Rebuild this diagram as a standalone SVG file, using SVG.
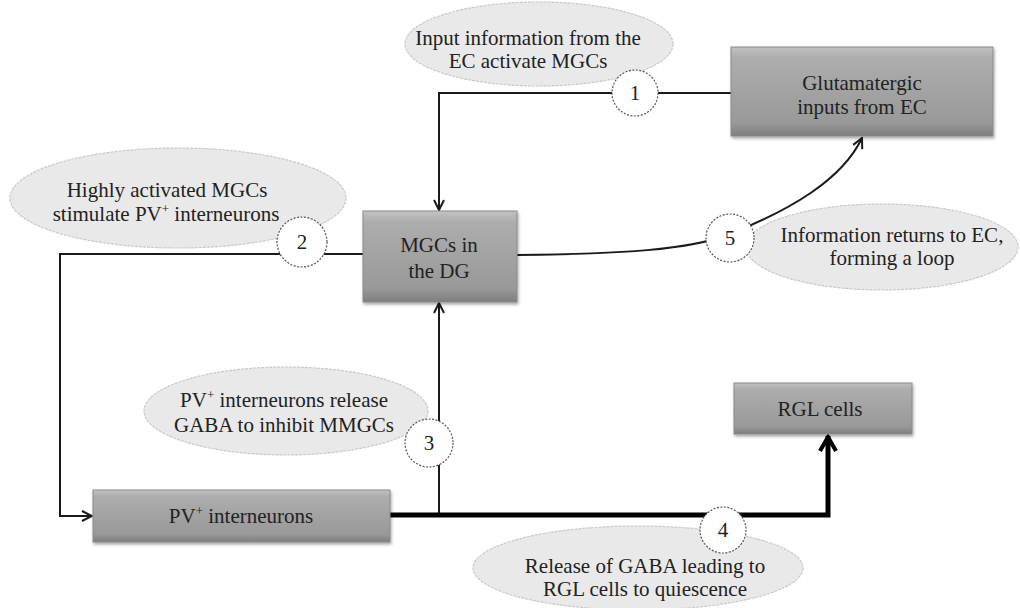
<svg xmlns="http://www.w3.org/2000/svg" width="1020" height="608" viewBox="0 0 1020 608">
<defs>
<linearGradient id="boxg" x1="0" y1="0" x2="0" y2="1">
<stop offset="0" stop-color="#c2c2c2"/>
<stop offset="0.12" stop-color="#adadad"/>
<stop offset="0.85" stop-color="#999999"/>
<stop offset="1" stop-color="#7e7e7e"/>
</linearGradient>
<filter id="sh" x="-10%" y="-10%" width="130%" height="140%">
<feDropShadow dx="1" dy="2" stdDeviation="1.5" flood-color="#000" flood-opacity="0.35"/>
</filter>
<marker id="arr" viewBox="0 0 12 12" refX="11" refY="6" markerWidth="12" markerHeight="12" markerUnits="userSpaceOnUse" orient="auto">
<path d="M1,1 L11,6 L1,11" fill="none" stroke="#1a1a1a" stroke-width="2"/>
</marker>
<marker id="arrT" viewBox="0 0 20 20" refX="18" refY="10" markerWidth="20" markerHeight="20" markerUnits="userSpaceOnUse" orient="auto">
<path d="M3,2 L17,10 L3,18" fill="none" stroke="#000" stroke-width="4"/>
</marker>
</defs>
<style>
.box{fill:url(#boxg);stroke:#8a8a8a;stroke-width:1;filter:url(#sh)}
.ell{fill:#e9e9e9;stroke:#c9c9c9;stroke-width:1.2;stroke-dasharray:3 1}
.num{fill:#fff;stroke:#555;stroke-width:1.2;stroke-dasharray:2 1.5}
.t{font-family:"Liberation Serif","Times New Roman",serif;font-size:21px;fill:#222;text-anchor:middle}
.ln{fill:none;stroke:#1a1a1a;stroke-width:2}
.thick{fill:none;stroke:#000;stroke-width:5}
</style>
<rect width="1020" height="608" fill="#fff"/>

<g id="ellipse1"><ellipse class="ell" cx="539" cy="44" rx="134" ry="42"/>
<text class="t" x="528" y="45">Input information from the</text>
<text class="t" x="528" y="68">EC activate MGCs</text></g>
<g id="ellipse2"><ellipse class="ell" cx="178" cy="198" rx="168" ry="50"/>
<text class="t" x="167" y="197">Highly activated MGCs</text>
<text class="t" x="166" y="221">stimulate PV<tspan font-size="13" dy="-8">+</tspan><tspan dy="8"> interneurons</tspan></text></g>
<g id="ellipse3"><ellipse class="ell" cx="286" cy="411" rx="142" ry="44"/>
<text class="t" x="284" y="407">PV<tspan font-size="13" dy="-8">+</tspan><tspan dy="8"> interneurons release</tspan></text>
<text class="t" x="284" y="432">GABA to inhibit MMGCs</text></g>
<g id="ellipse4"><ellipse class="ell" cx="638" cy="568" rx="165" ry="42"/>
<text class="t" x="645" y="573">Release of GABA leading to</text>
<text class="t" x="645" y="596">RGL cells to quiescence</text></g>
<g id="ellipse5"><ellipse class="ell" cx="882" cy="247" rx="136" ry="43"/>
<text class="t" x="892" y="242">Information returns to EC,</text>
<text class="t" x="892" y="265">forming a loop</text></g>

<g id="connectors">
<path class="ln" d="M731,93 H439 V210" marker-end="url(#arr)"/>
<path class="ln" d="M363,254 H60 V516 H92" marker-end="url(#arr)"/>
<path class="ln" d="M439,515 V303" marker-end="url(#arr)"/>
<path class="ln" d="M517,255 C620,254 690,250 730,234 C790,210 842,180 862,138" marker-end="url(#arr)"/>
<path class="thick" d="M390,515 H828 V436" marker-end="url(#arrT)"/>
</g>

<g id="glutamatergic"><rect class="box" x="731" y="47" width="262" height="89"/>
<text class="t" x="862" y="90">Glutamatergic</text>
<text class="t" x="862" y="114">inputs from EC</text></g>
<g id="mgcs"><rect class="box" x="363" y="211" width="154" height="91"/>
<text class="t" x="439" y="252">MGCs in</text>
<text class="t" x="439" y="278">the DG</text></g>
<g id="pv"><rect class="box" x="93" y="490" width="297" height="52"/>
<text class="t" x="241" y="523">PV<tspan font-size="13" dy="-8">+</tspan><tspan dy="8"> interneurons</tspan></text></g>
<g id="rgl"><rect class="box" x="734" y="383" width="178" height="51"/>
<text class="t" x="820" y="416">RGL cells</text></g>

<g id="num1"><circle class="num" cx="635" cy="93" r="23"/><text class="t" x="635" y="100">1</text></g>
<g id="num2"><circle class="num" cx="302" cy="242" r="25"/><text class="t" x="302" y="249">2</text></g>
<g id="num3"><circle class="num" cx="429" cy="443" r="24"/><text class="t" x="429" y="450">3</text></g>
<g id="num4"><circle class="num" cx="723" cy="530" r="23"/><text class="t" x="723" y="537">4</text></g>
<g id="num5"><circle class="num" cx="730" cy="238" r="24"/><text class="t" x="730" y="245">5</text></g>
</svg>
